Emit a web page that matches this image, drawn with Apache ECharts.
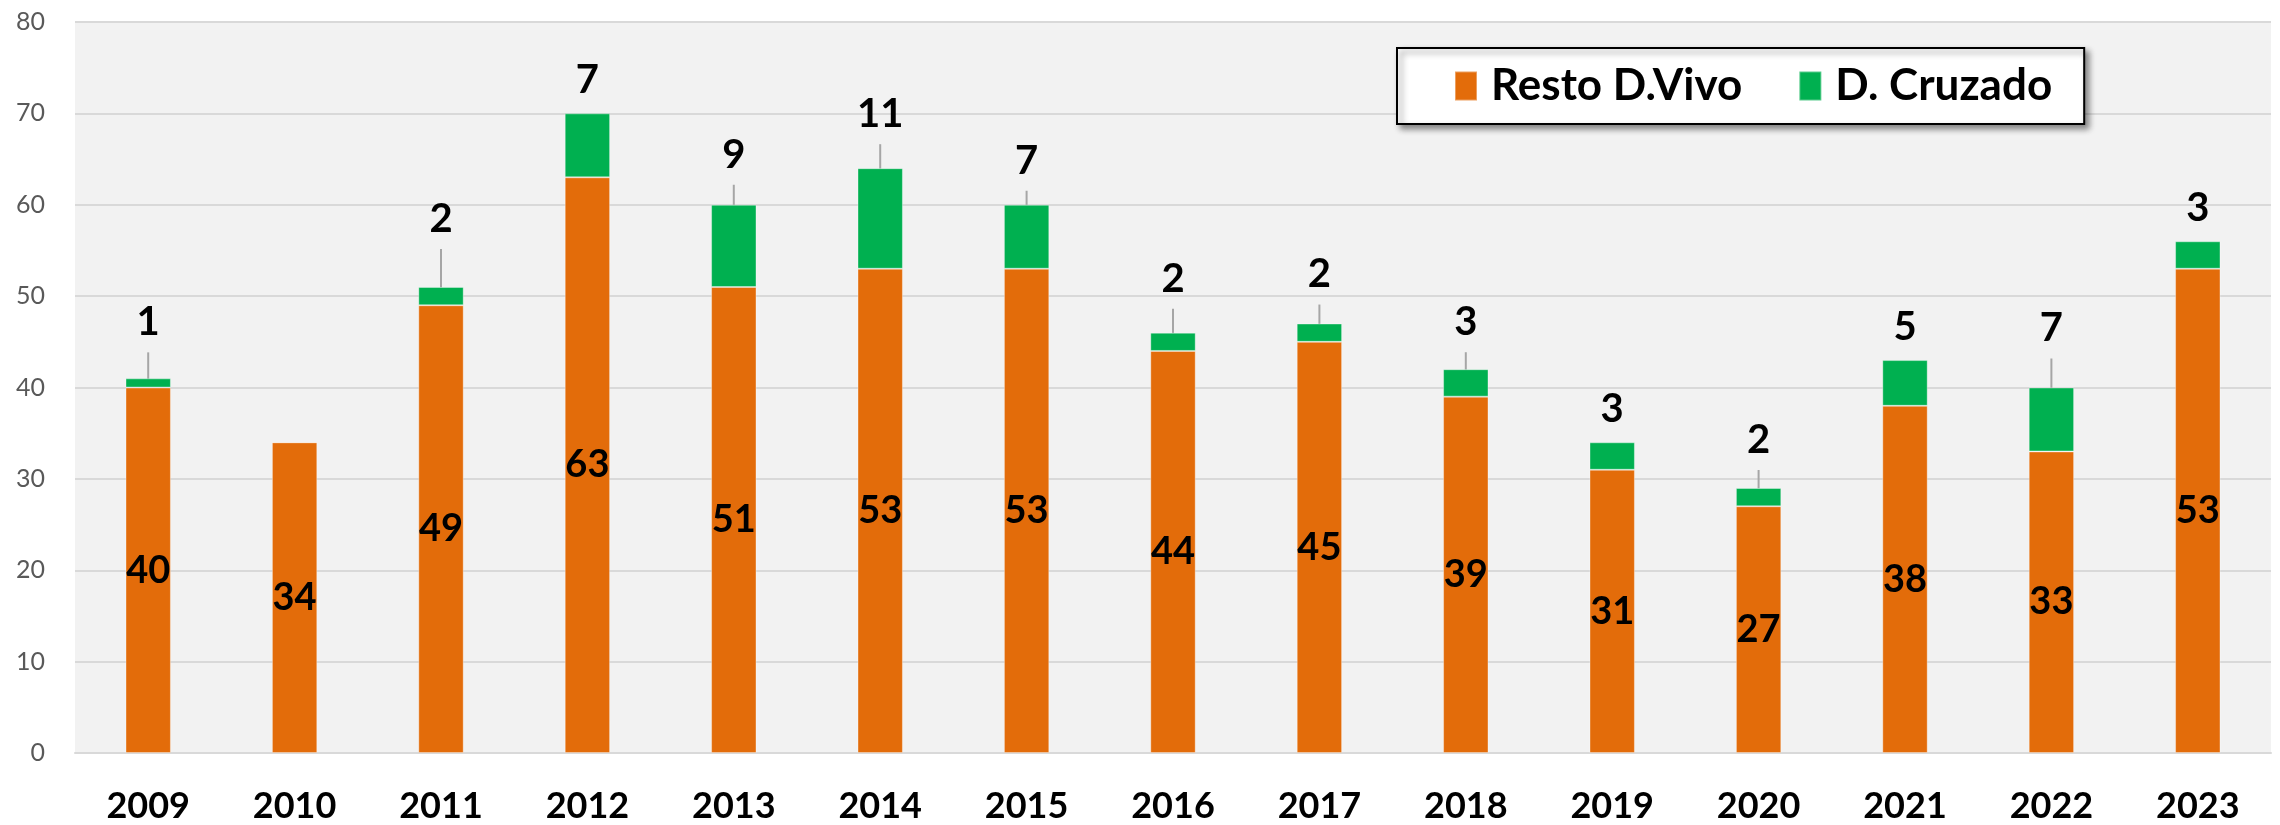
<!DOCTYPE html>
<html>
<head>
<meta charset="utf-8">
<script src="https://cdn.jsdelivr.net/npm/echarts@6/dist/echarts.min.js"></script>
<style>
  html, body { margin: 0; padding: 0; background: #fff; }
  #chart { width: 2280px; height: 825px; }
</style>
</head>
<body>
<div id="chart"></div>
<script>
let years = ["2009", "2010", "2011", "2012", "2013", "2014", "2015", "2016",
             "2017", "2018", "2019", "2020", "2021", "2022", "2023"];
let resto = [40, 34, 49, 63, 51, 53, 53, 44, 45, 39, 31, 27, 38, 33, 53];
let cruzado = [1, 0, 2, 7, 9, 11, 7, 2, 2, 3, 3, 2, 5, 7, 3];
let seriesNames = ["Resto D.Vivo", "D. Cruzado"];

// how far each green label was dragged up in the original (px)
let cruzadoLift = [23, 0, 35, 0, 17, 21, 11, 21, 16, 14, 0, 15, 0, 26, 0];

var myChart = echarts.init(document.getElementById("chart"));
myChart.setOption({
    animation: false,
    grid: {
        left: 75,
        right: 9,
        top: 22,
        bottom: 72,
        show: true,
        backgroundColor: "#f2f2f2",
        borderWidth: 0
    },
    legend: {
        left: 1397,
        top: 48,
        padding: [15, 32, 15, 57],
        itemWidth: 22,
        itemHeight: 29,
        itemGap: 56,
        icon: "rect",
        backgroundColor: "#fff",
        borderColor: "#000",
        borderWidth: 2,
        shadowColor: "rgba(0,0,0,0.45)",
        shadowBlur: 6,
        shadowOffsetX: 4,
        shadowOffsetY: 4,
        textStyle: {
            fontFamily: "Lato",
            fontWeight: "bold",
            fontSize: 44,
            lineHeight: 46,
            color: "#000",
            padding: [0, 0, 0, 9]
        },
        data: seriesNames
    },
    xAxis: {
        type: "category",
        data: years,
        axisTick: { show: false },
        axisLine: { lineStyle: { color: "#d9d9d9", width: 2 } },
        axisLabel: {
            margin: 35,
            fontFamily: "Lato",
            fontWeight: "bold",
            fontSize: 36,
            color: "#000"
        }
    },
    yAxis: {
        type: "value",
        min: 0,
        max: 80,
        interval: 10,
        axisLine: { show: false },
        axisTick: { show: false },
        splitLine: { lineStyle: { color: "#d9d9d9", width: 2 } },
        axisLabel: {
            margin: 30,
            fontFamily: "Lato",
            fontSize: 25,
            color: "#595959"
        }
    },
    series: [
        {
            name: seriesNames[0],
            type: "bar",
            stack: "total",
            barWidth: "31%",
            itemStyle: { color: "#e36c0a", borderColor: "rgba(255,255,255,0.35)", borderWidth: 1 },
            label: {
                show: true,
                position: "inside",
                fontFamily: "Lato",
                fontWeight: "bold",
                fontSize: 38,
                color: "#000"
            },
            data: resto
        },
        {
            name: seriesNames[1],
            type: "bar",
            stack: "total",
            barWidth: "31%",
            itemStyle: { color: "#00b050", borderColor: "rgba(255,255,255,0.35)", borderWidth: 1 },
            label: {
                show: true,
                position: "top",
                distance: 3,
                padding: [0, 0, 10, 0],
                fontFamily: "Lato",
                fontWeight: "bold",
                fontSize: 40,
                lineHeight: 40,
                color: "#000",
                formatter: p => (p.value ? String(p.value) : "")
            },
            labelLine: {
                show: true,
                lineStyle: { color: "#a6a6a6", width: 2 }
            },
            labelLayout: params => ({ dy: -cruzadoLift[params.dataIndex] }),
            data: cruzado.map((v, i) => ({
                value: v,
                labelLine: { show: v > 0 && cruzadoLift[i] > 0 }
            }))
        }
    ]
});
</script>
</body>
</html>
